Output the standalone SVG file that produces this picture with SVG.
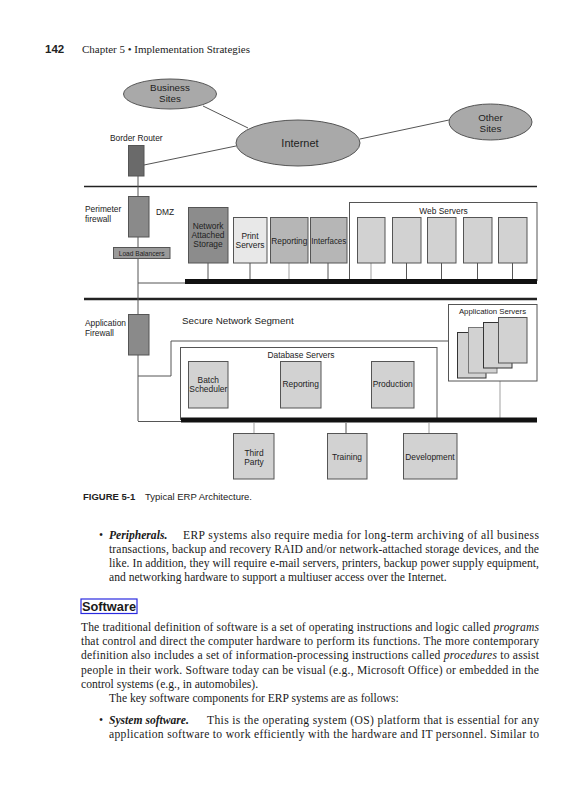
<svg xmlns="http://www.w3.org/2000/svg" width="582" height="800" viewBox="0 0 582 800">
<style>
.d{font-family:"Liberation Sans",Arial,sans-serif;fill:#222;}
.s8{font-size:8.4px;}
.s9{font-size:9.8px;}
.c{text-anchor:middle;}
.ell{fill:#a9a9a9;stroke:#555;stroke-width:1;}
.box{stroke:#555;stroke-width:1;}
.lt{fill:#d2d2d2;}
.ln{stroke:#555;stroke-width:1;fill:none;}
.lg{stroke:#b0b0b0;stroke-width:1.2;fill:none;}
.body{font-family:"Liberation Serif","Times New Roman",serif;font-size:11.6px;fill:#1a1a1a;}
.bi{font-weight:bold;font-style:italic;}
.it{font-style:italic;}
</style>
<rect width="582" height="800" fill="#fff"/>
<text x="45" y="53" font-family="Liberation Sans,Arial,sans-serif" font-weight="bold" font-size="11.5" fill="#222">142</text>
<text x="82" y="53" font-family="Liberation Serif,Times New Roman,serif" font-size="10.5" fill="#222" textLength="168" lengthAdjust="spacingAndGlyphs">Chapter 5 • Implementation Strategies</text>

<g id="connectors">
<line class="ln" x1="203" y1="106" x2="248" y2="128"/>
<line class="ln" x1="360" y1="139" x2="449" y2="120"/>
<line class="ln" x1="144" y1="165" x2="236" y2="146"/>
<line x1="84" y1="186.5" x2="537" y2="186.5" stroke="#222" stroke-width="1.4"/>
<line x1="84" y1="299" x2="537" y2="299" stroke="#222" stroke-width="2.4"/>
<line class="ln" x1="138" y1="176" x2="138" y2="421"/>
<line class="ln" x1="138" y1="283" x2="186" y2="283"/>
<line class="ln" x1="208" y1="263" x2="208" y2="279"/>
<line class="ln" x1="250" y1="263" x2="250" y2="279"/>
<line class="lg" x1="289" y1="263" x2="289" y2="279"/>
<line class="ln" x1="328" y1="263" x2="328" y2="279"/>
<polyline class="ln" points="138,376 171,376 171,341 448,341"/>
<line class="lg" x1="500" y1="381" x2="500" y2="418"/>
<line class="ln" x1="138" y1="421.5" x2="181" y2="421.5"/>
<line class="ln" x1="208" y1="408" x2="208" y2="418"/>
<line class="ln" x1="300" y1="408" x2="300" y2="418"/>
<line class="ln" x1="392" y1="408" x2="392" y2="418"/>
<line class="lg" x1="254" y1="423" x2="254" y2="433"/>
<line class="ln" x1="346" y1="423" x2="346" y2="433"/>
<line class="lg" x1="429" y1="423" x2="429" y2="433"/>
</g>

<g id="business-sites">
<ellipse class="ell" cx="170" cy="94" rx="46.5" ry="15"/>
<text class="d s9 c" x="170" y="90.5">Business</text>
<text class="d s9 c" x="170" y="101.5">Sites</text>
</g>
<g id="internet">
<ellipse class="ell" cx="298" cy="143" rx="62" ry="23"/>
<text class="d c" font-size="11" x="300" y="146.5">Internet</text>
</g>
<g id="other-sites">
<ellipse class="ell" cx="490.5" cy="122" rx="41.5" ry="18"/>
<text class="d s9 c" x="490.5" y="120.5">Other</text>
<text class="d s9 c" x="490.5" y="132">Sites</text>
</g>
<g id="border-router">
<text class="d s8" x="110" y="141">Border Router</text>
<rect class="box" x="128.5" y="145.5" width="15.5" height="30.5" fill="#6a6a6a" stroke="#333"/>
</g>
<g id="perimeter-firewall">
<text class="d s8" x="85" y="212">Perimeter</text>
<text class="d s8" x="85" y="221.5">firewall</text>
<rect class="box" x="128.5" y="196.5" width="20.5" height="40.5" fill="#8a8a8a"/>
<text class="d s8" x="156" y="215">DMZ</text>
</g>
<g id="load-balancers">
<rect class="box" x="113.5" y="247.5" width="56.5" height="11" fill="#9a9a9a" stroke="#777"/>
<text class="d c" font-size="6.6" x="141.7" y="255.5">Load Balancers</text>
</g>
<g id="nas">
<rect class="box" x="188.5" y="207.5" width="39.5" height="55.5" fill="#8c8c8c"/>
<text class="d s8 c" x="208" y="229">Network</text>
<text class="d s8 c" x="208" y="238">Attached</text>
<text class="d s8 c" x="208" y="247">Storage</text>
</g>
<g id="print-servers">
<rect class="box" x="233.5" y="217.5" width="33.5" height="45.5" fill="#e8e8e8"/>
<text class="d s8 c" x="250" y="239">Print</text>
<text class="d s8 c" x="250" y="248">Servers</text>
</g>
<g id="reporting-dmz">
<rect class="box" x="270.5" y="217.5" width="37.5" height="45.5" fill="#b6b6b6"/>
<text class="d s8 c" x="289.3" y="244" textLength="36" lengthAdjust="spacingAndGlyphs">Reporting</text>
</g>
<g id="interfaces">
<rect class="box" x="310.5" y="217.5" width="36.5" height="45.5" fill="#b6b6b6"/>
<text class="d s8 c" x="328.8" y="244" textLength="35" lengthAdjust="spacingAndGlyphs">Interfaces</text>
</g>
<g id="web-servers">
<rect x="349.5" y="202.5" width="187.5" height="78" fill="#fff" stroke="#555"/>
<text class="d s8 c" x="443.5" y="214">Web Servers</text>
<line class="lg" x1="371" y1="263" x2="371" y2="279"/>
<line class="ln" x1="406.5" y1="263" x2="406.5" y2="279"/>
<line class="ln" x1="441.5" y1="263" x2="441.5" y2="279"/>
<line class="ln" x1="477.5" y1="263" x2="477.5" y2="279"/>
<line class="ln" x1="512.5" y1="263" x2="512.5" y2="279"/>
<rect class="box lt" x="357.5" y="217.5" width="27.5" height="45.5"/>
<rect class="box lt" x="392.5" y="217.5" width="28.5" height="45.5"/>
<rect class="box lt" x="427.5" y="217.5" width="28.5" height="45.5"/>
<rect class="box lt" x="463.5" y="217.5" width="28.5" height="45.5"/>
<rect class="box lt" x="498.5" y="217.5" width="28.5" height="45.5"/>
</g>
<g id="dmz-bus">
<rect x="185" y="279" width="352" height="5" fill="#111"/>
</g>
<g id="application-firewall">
<text class="d s8" x="85" y="326">Application</text>
<text class="d s8" x="85" y="336">Firewall</text>
<rect class="box" x="128.5" y="314.5" width="20.5" height="40.5" fill="#8a8a8a"/>
</g>
<g id="secure-segment">
<text class="d s9" x="182" y="323.5">Secure Network Segment</text>
</g>
<g id="application-servers">
<rect x="448.5" y="304.5" width="88.5" height="76.5" fill="#fff" stroke="#555"/>
<text class="d c" font-size="7.8" x="492.5" y="313.5">Application Servers</text>
<rect x="457.5" y="332.5" width="28.5" height="45.5" fill="#d2d2d2" stroke="#333"/>
<rect x="468.5" y="327.5" width="28.5" height="45.5" fill="#d2d2d2" stroke="#777"/>
<rect x="483.5" y="322.5" width="28.5" height="45.5" fill="#d2d2d2" stroke="#333"/>
<rect x="498.5" y="317.5" width="28.5" height="45.5" fill="#d2d2d2" stroke="#555"/>
</g>
<g id="database-servers">
<rect x="180.5" y="347.5" width="256.5" height="72" fill="#fff" stroke="#555"/>
<text class="d s8 c" x="301" y="358">Database Servers</text>
</g>
<g id="batch-scheduler">
<rect class="box lt" x="188.5" y="361.5" width="39.5" height="46.5"/>
<text class="d s8 c" x="208.3" y="382.5">Batch</text>
<text class="d s8 c" x="208.3" y="392" textLength="38" lengthAdjust="spacingAndGlyphs">Scheduler</text>
</g>
<g id="reporting-db">
<rect class="box lt" x="280.5" y="361.5" width="40.5" height="46.5"/>
<text class="d s8 c" x="300.7" y="387">Reporting</text>
</g>
<g id="production">
<rect class="box lt" x="371.5" y="361.5" width="42.5" height="46.5"/>
<text class="d s8 c" x="392.7" y="387">Production</text>
</g>
<g id="secure-bus">
<rect x="181" y="417.5" width="356" height="5" fill="#111"/>
</g>
<g id="third-party">
<rect class="box lt" x="233.5" y="433.5" width="40.5" height="45.5"/>
<text class="d s8 c" x="254" y="455.5">Third</text>
<text class="d s8 c" x="254" y="464.5">Party</text>
</g>
<g id="training">
<rect class="box lt" x="327.5" y="433.5" width="39.5" height="45.5"/>
<text class="d s8 c" x="347" y="459.5">Training</text>
</g>
<g id="development">
<rect class="box lt" x="403.5" y="433.5" width="53.5" height="45.5"/>
<text class="d s8 c" x="430" y="459.5">Development</text>
</g>

<g id="caption" font-family="Liberation Sans,Arial,sans-serif" font-size="9.5" fill="#222">
<text x="83" y="500" font-weight="bold">FIGURE 5-1</text>
<text x="145" y="500">Typical ERP Architecture.</text>
</g>

<g id="body-text">
<text class="body" x="99" y="538.5">•</text>
<text class="body bi" x="109" y="538.5">Peripherals.</text>
<text class="body" x="183" y="538.5" textLength="356" lengthAdjust="spacing">ERP systems also require media for long-term archiving of all business</text>
<text class="body" x="109" y="552.8" textLength="430" lengthAdjust="spacing">transactions, backup and recovery RAID and/or network-attached storage devices, and the</text>
<text class="body" x="109" y="567.1" textLength="430" lengthAdjust="spacing">like. In addition, they will require e-mail servers, printers, backup power supply equipment,</text>
<text class="body" x="109" y="581.4">and networking hardware to support a multiuser access over the Internet.</text>

<rect x="81" y="599" width="56" height="14.5" fill="none" stroke="#2a2ae0" stroke-width="1.2"/>
<text x="82" y="611" font-family="Liberation Sans,Arial,sans-serif" font-weight="bold" font-size="12.5" fill="#1a1a1a" textLength="54" lengthAdjust="spacingAndGlyphs">Software</text>

<text class="body" x="81" y="630.5" textLength="458" lengthAdjust="spacing">The traditional definition of software is a set of operating instructions and logic called <tspan class="it">programs</tspan></text>
<text class="body" x="81" y="645" textLength="458" lengthAdjust="spacing">that control and direct the computer hardware to perform its functions. The more contemporary</text>
<text class="body" x="81" y="659.4" textLength="458" lengthAdjust="spacing">definition also includes a set of information-processing instructions called <tspan class="it">procedures</tspan> to assist</text>
<text class="body" x="81" y="673.7" textLength="458" lengthAdjust="spacing">people in their work. Software today can be visual (e.g., Microsoft Office) or embedded in the</text>
<text class="body" x="81" y="688">control systems (e.g., in automobiles).</text>
<text class="body" x="109" y="702.3">The key software components for ERP systems are as follows:</text>
<text class="body" x="99" y="723.5">•</text>
<text class="body bi" x="109" y="723.5">System software.</text>
<text class="body" x="207" y="723.5" textLength="332" lengthAdjust="spacing">This is the operating system (OS) platform that is essential for any</text>
<text class="body" x="109" y="737.8" textLength="430" lengthAdjust="spacing">application software to work efficiently with the hardware and IT personnel. Similar to</text>
</g>
</svg>
